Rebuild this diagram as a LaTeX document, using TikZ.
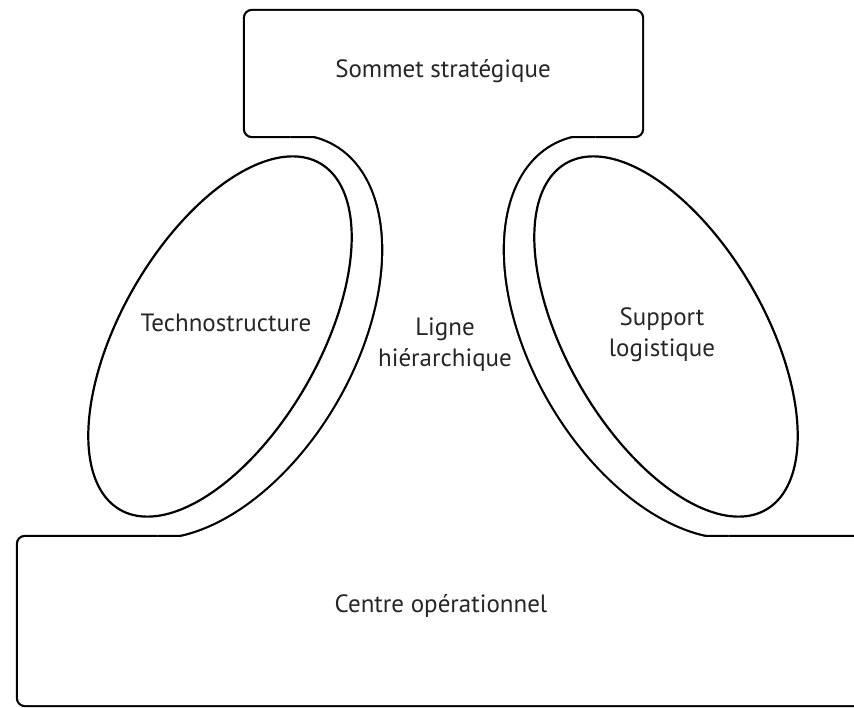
\documentclass[tikz,border=0pt]{standalone}
\usepackage{fontspec}
\setmainfont{PT Sans}
% ellipse inclinee : centre x, centre y, demi-grand axe, demi-petit axe, angle
\newcommand{\ovale}[5]{plot[domain=0:360,samples=181,variable=\t]
  ({#1+#3*cos(\t)*cos(#5)-#4*sin(\t)*sin(#5)},{#2-#3*cos(\t)*sin(#5)-#4*sin(\t)*cos(#5)}) -- cycle}
\begin{document}
\begin{tikzpicture}[x=1pt,y=-1pt,
  trait/.style={line width=2.2pt},
  contour/.style={line width=4.4pt},
  coin/.style={rounded corners=7pt},
  etiquette/.style={font=\fontsize{25}{31}\selectfont,text=black!85,align=center,inner sep=0pt}]
\useasboundingbox (0,0) rectangle (854,708);
% contour de l'organisation : traits epais, puis remplissage blanc
\draw[contour,coin] (245,11) rectangle (642,136);
\draw[contour,coin] (18,537) rectangle (880,705);
\begin{scope}
  \clip (291,136) -- (157,537) -- (729,537) -- (595,136) -- cycle;
  \draw[contour] \ovale{224}{336.5}{222}{132}{60};
  \draw[contour] \ovale{662}{336.5}{222}{132}{-60};
\end{scope}
\fill[white,coin] (245,11) rectangle (642,136);
\fill[white,coin] (18,537) rectangle (880,705);
\begin{scope}
  \clip (291,136) -- (157,537) -- (729,537) -- (595,136) -- cycle;
  \fill[white,even odd rule] (291,136) -- (157,537) -- (729,537) -- (595,136) -- cycle
    \ovale{224}{336.5}{222}{132}{60} \ovale{662}{336.5}{222}{132}{-60};
\end{scope}
% les deux fonctions de soutien
\draw[trait] \ovale{220}{336.5}{200}{99}{60};
\draw[trait] \ovale{666}{336.5}{200}{99}{-60};
% textes
\node[etiquette,anchor=base] (sommet) at (443,78) {Sommet stratégique};
\node[etiquette,anchor=base] (techno) at (226,332) {Technostructure};
\node[etiquette] (ligne) at (445,345) {Ligne\\hiérarchique};
\node[etiquette] (support) at (662,335) {Support\\logistique};
\node[etiquette,anchor=base] (centre) at (441,612) {Centre opérationnel};
\end{tikzpicture}
\end{document}
